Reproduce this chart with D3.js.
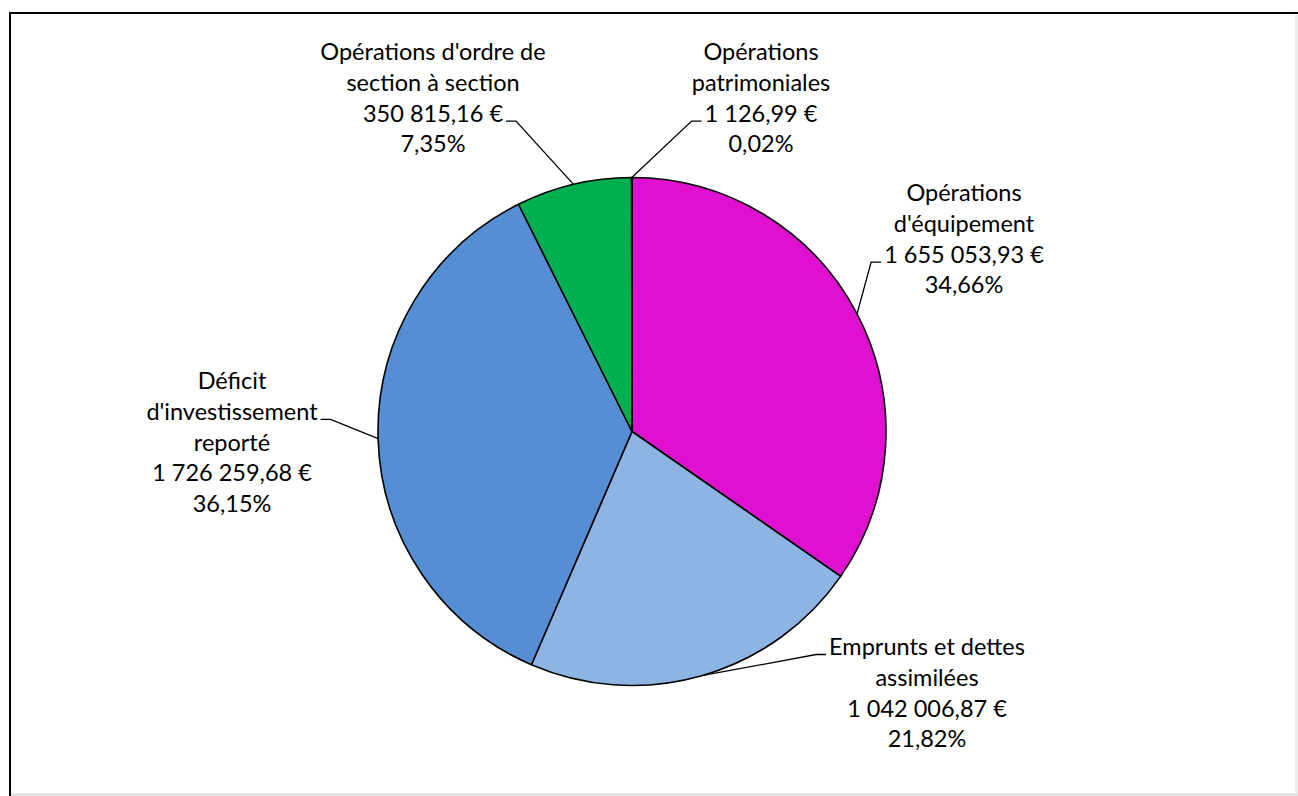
<!DOCTYPE html>
<html>
<head>
<meta charset="utf-8">
<script src="https://cdn.jsdelivr.net/npm/d3@7"></script>
<style>
  html, body { margin: 0; padding: 0; background: #fff; }
  svg { display: block; }
  text { font-family: Lato, "Open Sans", sans-serif; fill: #000; }
</style>
</head>
<body>
<svg id="chart" width="1298" height="796"></svg>
<script>
// ---- data ----
const categories = [
  "Opérations d'équipement",
  "Emprunts et dettes assimilées",
  "Déficit d'investissement reporté",
  "Opérations d'ordre de section à section",
  "Opérations patrimoniales"
];
const values = [1655053.93, 1042006.87, 1726259.68, 350815.16, 1126.99];
const colors = ["#E010D0", "#8EB4E3", "#558ED5", "#00B050", "#F2C200"];
// label line breaks (as shown in the chart)
const labelLines = [
  ["Opérations", "d'équipement"],
  ["Emprunts et dettes", "assimilées"],
  ["Déficit", "d'investissement", "reporté"],
  ["Opérations d'ordre de", "section à section"],
  ["Opérations", "patrimoniales"]
];

// ---- layout (label block centres relative to pie centre) ----
const labelLayout = [
  { dx: 332, top: -239, side: "left",  hookLine: 2 },
  { dx: 295, top: 215,  side: "left",  hookLine: 0 },
  { dx: -400, top: -51, side: "right", hookLine: 1 },
  { dx: -199, top: -380, side: "right", hookLine: 2 },
  { dx: 129, top: -380, side: "left",  hookLine: 2 }
];

const W = 1298, H = 796;
const cx = 632, cy = 431.5, R = 254;
const svg = d3.select("#chart");

// frame
svg.append("rect").attr("x", 0).attr("y", 0).attr("width", W).attr("height", H).attr("fill", "#fff");
svg.append("rect").attr("x", 10).attr("y", 13).attr("width", W + 20).attr("height", H + 20)
  .attr("fill", "none").attr("stroke", "#000").attr("stroke-width", 2);
svg.append("rect").attr("x", W - 3).attr("y", 15).attr("width", 3).attr("height", H).attr("fill", "#ececec");
svg.append("rect").attr("x", 11).attr("y", H - 3).attr("width", W).attr("height", 3).attr("fill", "#e4e4e4");

const total = d3.sum(values);
const pie = d3.pie().sort(null).value(d => d)(values);
const arc = d3.arc().innerRadius(0).outerRadius(R);

const g = svg.append("g").attr("transform", `translate(${cx},${cy})`);
g.selectAll("path.slice").data(pie).join("path")
  .attr("class", "slice")
  .attr("d", arc)
  .attr("fill", (d, i) => colors[i])
  .attr("stroke", "#000")
  .attr("stroke-width", 1.6)
  .attr("stroke-linejoin", "round");

const fmtNum = v => {
  const [ip, dp] = v.toFixed(2).split(".");
  return ip.replace(/\B(?=(\d{3})+(?!\d))/g, " ") + "," + dp + " €";
};
const fmtPct = v => (v * 100).toFixed(2).replace(".", ",") + "%";

const fontSize = 23.5, lineH = 30.8;

pie.forEach((d, i) => {
  const L = labelLayout[i];
  const lines = labelLines[i].concat([fmtNum(values[i]), fmtPct(values[i] / total)]);
  const t = g.append("text").attr("text-anchor", "middle").attr("font-size", fontSize);
  lines.forEach((s, k) => {
    t.append("tspan").attr("x", L.dx).attr("y", L.top + k * lineH + fontSize * 0.36).text(s);
  });
  // leader line: from hooked text line to arc midpoint on outer edge
  const mid = (d.startAngle + d.endAngle) / 2;
  const px = R * Math.sin(mid), py = -R * Math.cos(mid);
  const tspan = t.selectAll("tspan").nodes()[L.hookLine];
  const w = tspan.getComputedTextLength();
  const hy = L.top + L.hookLine * lineH + 8;
  const startX = L.side === "left" ? L.dx - w / 2 - 3 : L.dx + w / 2 + 3;
  const elbowX = L.side === "left" ? startX - 10 : startX + 10;
  g.append("path")
    .attr("d", d3.line()([[startX, hy], [elbowX, hy], [px, py]]))
    .attr("fill", "none").attr("stroke", "#000").attr("stroke-width", 1.3);
});
</script>
</body>
</html>
